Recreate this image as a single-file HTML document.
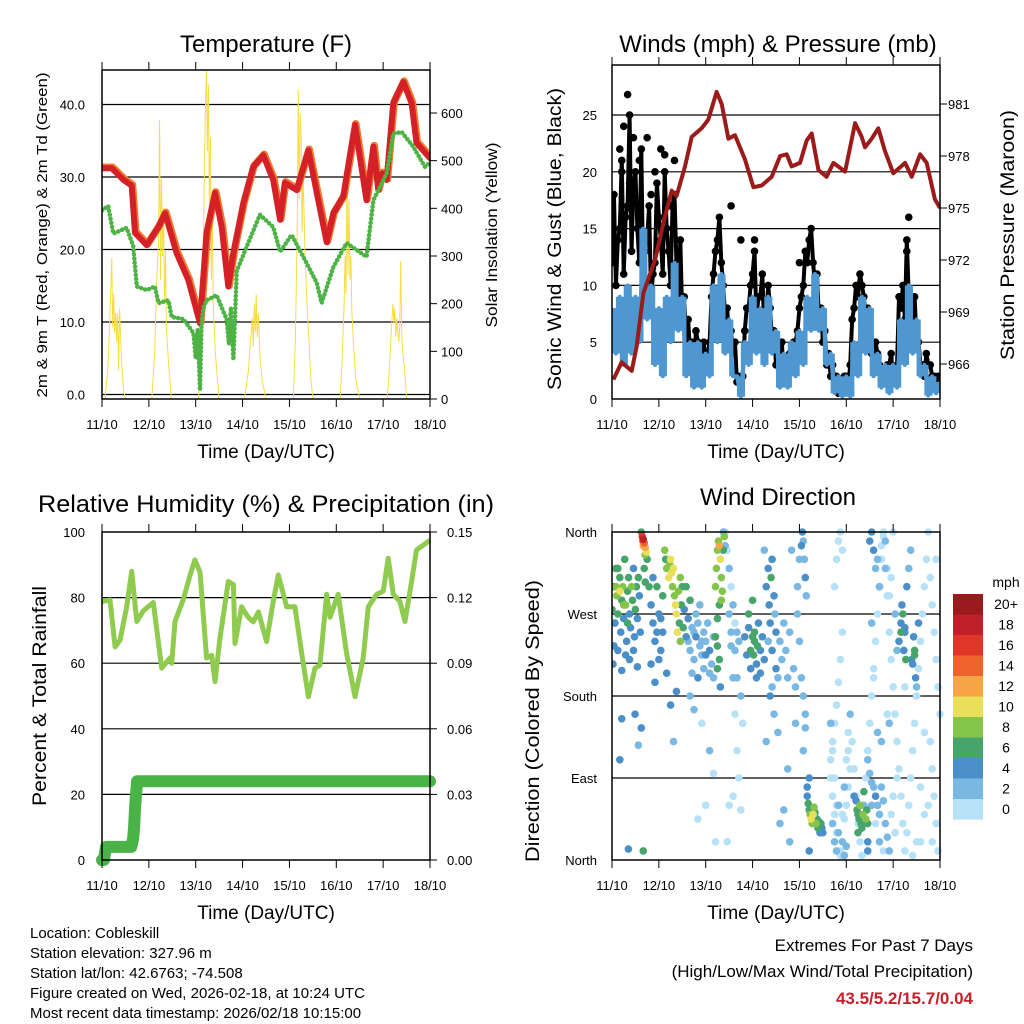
<!DOCTYPE html>
<html><head><meta charset="utf-8"><title>Cobleskill station meteogram</title>
<style>
html,body{margin:0;padding:0;background:#fff;}
svg{display:block;font-family:"Liberation Sans",Arial,sans-serif;}
</style></head>
<body>
<svg id="fig" width="1024" height="1024" viewBox="0 0 1024 1024" xmlns="http://www.w3.org/2000/svg">
<rect x="0" y="0" width="1024" height="1024" fill="#fff"/>
<g id="p1"></g>
<g id="p2"></g>
<g id="p3"></g>
<g id="p4"></g>
<g id="cb"></g>
<g font-size="15" fill="#000">
<text x="30" y="938">Location: Cobleskill</text>
<text x="30" y="958">Station elevation: 327.96 m</text>
<text x="30" y="978">Station lat/lon: 42.6763; -74.508</text>
<text x="30" y="998">Figure created on Wed, 2026-02-18, at 10:24 UTC</text>
<text x="30" y="1018">Most recent data timestamp: 2026/02/18 10:15:00</text>
</g>
<g font-size="17" text-anchor="end">
<text x="973" y="951">Extremes For Past 7 Days</text>
<text x="973" y="977">(High/Low/Max Wind/Total Precipitation)</text>
<text x="973" y="1004" font-weight="bold" fill="#c8202a">43.5/5.2/15.7/0.04</text>
</g>
</svg>
<script>
// ---------------- DATA ----------------
const dayLabels = ["11/10","12/10","13/10","14/10","15/10","16/10","17/10","18/10"];
// Temperature (F): time in hours since 11/10 00 UTC
const tempT = [0,5,11,15.2,16.9,22.9,28.9,32.3,38.2,44.2,50.2,53.6,57.9,61.3,64.7,67.3,72.4,77.5,82.6,87.7,91.2,93.7,99.7,105.7,110,115.1,118.5,123.6,129.6,135.5,137,139,141.5,143.5,145.8,149.2,154.3,158.6,161.1,168];
const tempV = [31.2,31.2,29.6,28.8,22.3,20.6,23.1,25,19.5,15.8,9.8,22.3,27.8,23.1,14.9,19.5,26.4,31.4,33,29.6,24.1,29.2,28.2,33.7,27.8,21,25,27.3,37.2,26.8,30,34.2,28.2,30.5,29.6,40.2,43.1,40.2,34.7,32.6];
const dewT = [0,3.2,5.8,12.6,16,17.8,22.9,27.1,28.9,34,35.7,41.7,46.8,48,49,50.2,51,52,53.6,58.7,63.8,65,66,67.3,69,74.1,80.9,87.7,91.2,97.1,103.1,110,112.5,118.5,125.3,135.5,139,145.8,149.2,153.5,159.4,165.4,168];
const dewV = [25.4,26,22.2,23,20.5,14.9,14.4,14.9,12.6,13,10.7,10.4,8.5,5,9,0.6,10,12,13,13.7,10.4,7,12,4.8,17,20.4,24.8,23.1,19.7,22,19,15.4,12.6,17.6,20.9,19,26.8,30.5,36,36.2,34.2,31.4,32];
const solarT = [0,1.5,3,4,5,5.5,6,6.5,7,7.5,8,8.5,9,10,11,12, 25.5,27,28,29,29.5,30,30.5,31,31.5,32,32.5,33,34,35.5, 49.5,51,52,52.5,53,53.5,54,54.5,55,55.5,56,56.5,57,58,60, 73,75,76,77,77.5,78,78.5,79,79.5,80,81,82,84, 98,99,100,100.5,101,101.5,102,102.5,103,104,105,106,107,108, 122,123,124,124.5,125,125.5,126,126.5,127,127.5,128,129,130,132, 146,147,148,149,149.5,150,150.5,151,152,152.5,153,153.5,154,155,156,168];
const solarV = [0,0,60,170,296,150,220,140,180,120,180,60,190,80,20,0, 0,100,250,330,585,250,460,300,400,200,310,150,80,0, 0,150,350,500,620,690,520,660,400,550,250,420,200,100,0, 0,60,120,170,110,200,140,220,130,180,90,40,0, 0,120,350,650,420,600,560,350,480,300,200,120,40,0, 0,80,200,300,220,470,260,420,250,300,180,100,40,0, 0,50,130,200,160,190,130,170,120,150,290,140,100,60,0,0];
const tempTicks = [0,10,20,30,40];
const tempTickLabels = ["0.0","10.0","20.0","30.0","40.0"];
const solarTicks = [0,100,200,300,400,500,600];

// Winds (mph) & pressure (mb)
const pressT = [0.7,4.9,10.1,12.6,16.1,22.0,27.1,30.6,33.1,37.4,40.8,45.9,49.3,53.6,56.2,59.6,63.0,68.1,72.4,76.7,81.8,86.1,89.5,92.0,96.3,99.7,102.3,105.7,109.9,113.4,119.4,124.5,127.9,129.6,133.0,136.4,139.8,144.1,150.1,153.5,157.8,161.2,165.4,168];
const pressV = [965.1,966.1,965.6,967,970.1,972,974.5,976,975.7,977.4,979.1,979.6,980.1,981.7,981,979,979.2,977.8,976.2,976.3,976.8,978,978.1,977.4,977.6,978.9,979.3,977.2,976.8,977.6,977.1,979.9,979.1,978.5,979,979.6,978.3,977,977.6,976.8,978.1,977.6,975.5,975];
// sustained wind every 2 hours (t = 0,2,4,...,168)
const windV = [8,4,9,3,10,4,9,5,15,7,10,3,8,2,9,5,12,6,9,2,5,1,5,1,4,2,10,5,11,4,7,2,2,0.2,5,3,9,4,8,3,9,4,6,1,4,1,5,2,6,3,9,6,11,6,8,3,4,0.5,2,0.2,2,0.2,5,2,9,4,8,2,4,1,3,0.5,3,1,7,3,10,4,7,2,3,0.3,2,0.5,1.5];
// gusts at odd hours (t = 1,3,...)
const gustA = [18,14,21,16,25,19,15,22,13,17,11,19,14,20,13,17,12,14,9,7,5,6,4,5,4,9,13,16,10,8,6,5,2,2,8,10,13,9,11,7,8,6,4,5,3,4,5,6,9,13,14,12,11,8,6,4,3,2,1,2,1,7,10,11,9,8,4,5,3,2,3,4,2,9,10,14,8,9,5,3,4,3,2,2];
// gusts at even hours (t = 0,2,...)
const gustB = [12,10,15,11,17,13,20,12,10,14,9,12,16,11,15,10,18,9,7,5,4,3,5,2,3,5,11,14,12,7,5,4,1.5,1,6,8,11,7,9,6,10,5,3,4,2,3,4,5,8,10,12,15,10,7,5,3,2,1,0.5,1,2,3,8,9,10,7,5,3,4,2,2,3,1.5,3,8,7,9,6,5,3,2,3,2,1.5,2];
const gustOutT = [4,6,8,11,18,22,25,27,32,61,66,73,96,151,152,5,9,14,20,30];
const gustOutV = [22,24,26.8,23,23,20,22,21.5,21,17,14,14,12,13,16,20,19,21,18,17];
const windTicks = [0,5,10,15,20,25];
const pressTicks = [966,969,972,975,978,981];

// Relative humidity (%) & accumulated precipitation (in)
const rhT = [0,4.1,6.7,9.2,12.6,15.2,17.8,21.2,26.3,30.6,34.8,35.7,37.4,41.7,45.1,47.6,50.2,53.6,56.2,57.9,60.4,64.7,67.3,68.1,71.5,74.9,77.5,80.1,84.3,87.7,90.3,94.6,98.8,102.3,105.7,109.1,111.6,115.1,116.8,121,125.3,129.6,133.8,136.4,140.7,144.1,146.6,149.2,152.6,155.2,158.6,161.1,168];
const rhV = [78.8,79.3,65,67,77,88,72.7,76,78.5,58.5,61.6,60,72.7,79.5,86.9,91.5,87.8,61.6,62.4,54.4,67.5,84.9,84,66,77.2,74,72.6,75.6,66.6,78.8,86.9,77.2,77.2,63,49.8,58.5,59.4,81,74,81,63,49.8,61.6,77.2,81,82,92,81,78.8,72.7,84.9,94.5,97.5];
const rainT = [0,1,2,8,15,16,16.5,17,17.5,18,40,80,120,168];
const rainV = [0,0,0.006,0.006,0.006,0.01,0.016,0.025,0.031,0.036,0.036,0.036,0.036,0.036];
const rhTicks = [0,20,40,60,80,100];
const rainTicks = [0,0.03,0.06,0.09,0.12,0.15];

// Wind direction: [hour, degrees, speed mph]
const dirObs = [
[0,275,6],[1,300,5],[1.5,260,4],[2,320,7],[2.5,290,8],[3,270,6],[4,310,6],[4.5,250,4],[5,285,7],[5.5,300,9],[6,265,5],[6.5,330,6],[7,280,8],[7.5,240,4],[8,295,6],[8.5,310,7],[9,270,5],[9.5,255,4],[10,300,8],[10.5,285,6],[11,320,5],[11.5,245,4],[12,275,7],[12.5,300,6],[13,265,4],[13.5,310,7],[14,290,5],[14.5,250,4],[1,235,4],[3,230,5],[7,225,5],[9,220,4],[5,208,4],[0.5,215,5],[13,212,4],[2,300,9],[4,295,10],[6,280,8],[3,320,6],[8,260,7],[11,230,5],
[4,110,4],[11.8,160,4],[15,145,4],[13.5,126,2],[8.4,12,4],[16,10,7],[5,155,4],
[15,360,7],[15.5,355,16],[16,352,19],[16.5,348,14],[17,343,12],[17.5,338,10],[16,345,12],[17,335,8],[15.8,350,14],[18,330,7],[16.5,320,6],[17,305,6],
[19,300,6],[20,280,5],[21,260,5],[22,240,4],[23,250,4],[24,270,5],[25,230,4],[26,290,6],[27,340,8],[27.5,330,7],[28,320,9],[29,310,10],[29.5,325,9],[30,330,10],[30.5,315,11],[31,300,9],[31.5,320,10],[32,290,8],[32.5,280,10],[33,270,11],[33.5,250,10],[34,295,8],[34.5,260,7],[35,240,9],[35.5,280,6],[36,300,7],[36.5,255,6],[37,275,5],[38,245,4],[39,265,5],[40,285,6],[20,215,4],[22,195,5],[24,220,5],[26,250,4],[28,205,4],[30,170,4],[31.5,130,2],[33,185,4],[35,310,8],[38,300,7],[21,310,5],[23,300,6],[25,265,5],
[39,240,3],[40,230,3],[41,255,2],[42,220,3],[43,245,4],[44,260,3],[45,235,2],[46,225,3],[47,250,2],[48,240,3],[49,260,3],[50,230,4],[51,215,2],[52,245,3],[41,205,3],[44,200,4],[47,210,3],[50,205,2],[42,250,3],[46,240,3],[48,225,4],[43,270,3],[45,280,2],[40,180,2],[42,165,2],[46,150,1],[50,120,2],[52,95,1],[48,60,1],[44,45,1],[53,20,1],[52,200,2],
[53,300,8],[53.5,320,9],[54,340,8],[54.5,350,9],[55,345,12],[55.5,330,10],[56,310,9],[56.5,295,8],[57,340,7],[57.5,355,8],[55,280,7],[54,265,6],[56,285,8],[53,245,6],[54,235,7],[55,220,6],[55.5,190,5],[54,210,7],
[58,360,1],[59,340,1],[60,320,2],[61,300,1],[62,280,2],[63,260,1],[64,250,2],[60,270,3],[61,235,3],[62,200,2],[63,160,1],[64,120,1],[65,90,1],[66,55,1],[62,70,1],[59,20,1],[60,60,1],[64,200,2],[66,180,2],[67,150,1],[58,345,2],[57,360,2],[61,250,2],[63,230,3],[65,240,3],
[68,245,4],[69,225,4],[70,255,5],[71,230,6],[72,245,6],[72.5,225,7],[73,250,6],[74,215,5],[74.5,235,6],[75,260,4],[76,230,4],[77,245,5],[78,220,4],[70,270,7],[72,285,6],[74,200,4],[76,205,4],[71,210,4],[73,240,7],
[79,300,5],[80,320,4],[80.5,280,4],[81,260,5],[81.5,310,6],[82,330,5],[83,290,4],[83.5,270,3],[84,250,4],[78,340,2],[80,240,3],[82,230,4],[84,210,4],[85,200,3],[81,180,4],[83,160,2],[85,140,2],[79,130,2],[82,190,2],
[86,240,3],[87,220,2],[88,260,2],[89,230,3],[90,200,2],[91,250,2],[92,340,2],[93,210,3],[94,190,2],[95,300,3],[96,330,3],[97,345,4],[97.5,360,4],[98,350,3],[98.5,330,3],[99,310,4],[99.5,290,3],[95,270,2],[96,240,2],[97,200,2],[98,180,2],[99,160,3],[99,145,3],[98,120,2],[94,150,2],[90,100,2],[88,55,2],[86,40,2],[91,20,2],
[100,70,5],[100.5,62,6],[101,55,7],[101.5,50,8],[102,45,10],[102.5,40,9],[103,50,10],[103.5,58,8],[104,52,7],[104.5,40,8],[105,45,6],[105.5,35,7],[106,42,6],[106.5,30,5],[107,40,6],[107.5,35,4],[108,30,4],[100,80,4],[101,90,4],[101,10,4],
[112,90,1],[113,70,1],[114,50,1],[115,30,1],[116,10,1],[117,5,1],[118,20,2],[119,45,1],[120,60,1],[121,80,1],[112,110,1],[113,130,1],[114,150,1],[115,170,1],[116,195,1],[117,220,1],[118,250,1],[114,300,1],[115,330,1],[116,350,1],[117,360,1],[118,340,1],[121,120,1],[122,100,1],[119,5,3],[120,15,3],[113,40,2],[114,20,2],[115,10,2],[116,60,2],
[124,70,4],[125,65,5],[125.5,55,6],[126,50,7],[126.5,45,6],[127,60,8],[127.5,40,6],[128,35,7],[128.5,50,8],[129,75,6],[130,45,8],[130.5,55,7],[131,40,6],[126,30,6],[131,20,4],[131,10,4],
[131,110,2],[132,95,3],[133,85,3],[134,80,3],[135,70,4],[136,60,3],[137,50,3],[138,80,2],[139,65,2],[140,40,2],[141,25,2],[142,10,2],[143,50,1],[144,70,1],[145,30,1],[146,90,1],[133,60,2],[135,40,1],[137,20,2],[139,10,1],[132,350,4],[133,360,4],[134,340,4],[135,320,2],[136,330,3],[137,300,2],[138,345,1],[139,360,1],[140,350,2],[141,320,1],[142,290,1],[143,310,1],[144,360,1],[145,270,2],[146,230,2],[141,160,1],[142,150,2],[138,130,2],[136,140,2],[134,200,1],[133,260,3],
[147,240,4],[148,260,5],[148.5,280,4],[149,270,6],[149.5,230,4],[150,250,4],[150.5,220,6],[151,300,4],[152,320,3],[153,340,3],[153.5,220,4],[154,215,4],[154.5,245,4],[155,225,6],[155.5,200,4],[156,190,3],[157,260,4],[148,250,7],[155,230,7],[150,255,5],
[112,150,2],[113,120,1],[114,90,1],[115,60,1],[116,30,2],[117,10,1],[118,50,1],[119,80,2],[120,110,1],[121,140,1],[122,160,2],[123,130,1],[124,100,1],[125,70,1],[126,40,1],[127,20,1],[128,5,1],[129,60,2],[130,90,1],[131,120,1],[132,150,1],[133,180,1],[134,210,1],[135,240,1],[136,270,1],[137,300,2],[138,330,1],[139,355,1],[140,320,2],[141,290,1],[142,250,1],[143,220,1],[144,190,1],[145,160,1],[146,130,1],[147,100,1],[148,70,1],[149,40,1],[150,10,1],[151,30,1],[152,60,1],[153,90,1],[154,120,1],[155,150,1],[156,180,1],[157,210,1],[158,240,1],[159,270,1],[160,300,1],[161,330,1],[162,360,1],[163,310,1],[164,280,1],[165,250,1],[166,220,1],[167,190,1],[168,160,1],[163,130,1],[164,100,1],[165,70,1],[166,40,1],[167,10,1],[160,50,1],[158,80,1],[156,20,1],[154,5,1],[150,190,1],[162,60,1],[164,20,1],[166,330,1],[160,140,1],[158,20,1]
];
const dirTicks = [0,90,180,270,360];
const dirTickLabels = ["North","East","South","West","North"];
const speedLabels = ["20+","18","16","14","12","10","8","6","4","2","0"];
const speedColors = ["#9b1a1e","#c0202a","#e0362a","#f0622b","#f7a547","#e8e05a","#84c44a","#47a56c","#4a8fc8","#7ab8e4","#b6e1f7"];

// ---------------- HELPERS ----------------
const NS = "http://www.w3.org/2000/svg";
function mk(parent, tag, attrs){
  const e = document.createElementNS(NS, tag);
  for (const k in attrs) e.setAttribute(k, attrs[k]);
  parent.appendChild(e);
  return e;
}
function txt(parent, x, y, s, size, anchor, extra){
  const e = mk(parent, "text", {x:x, y:y, "font-size":size, "text-anchor":anchor||"middle"});
  if (extra) for (const k in extra) e.setAttribute(k, extra[k]);
  e.textContent = s;
  return e;
}
function lin(d0, d1, r0, r1){ return v => r0 + (v - d0) * (r1 - r0) / (d1 - d0); }
function pts(ts, vs, sx, sy){ return ts.map((t,i)=> sx(t).toFixed(1)+","+sy(vs[i]).toFixed(1)).join(" "); }

function frame(g, x0, y0, x1, y1, sx, labelY, titleY){
  for (let i=0;i<dayLabels.length;i++){
    const x = sx(i*24);
    const tb = mk(g,"line",{x1:x,y1:y1,x2:x,y2:y1+8,stroke:"#000","stroke-width":1});
    
    
    const tt = mk(g,"line",{x1:x,y1:y0,x2:x,y2:y0-8,stroke:"#000","stroke-width":1});
    
    
    const l = txt(g, x, labelY, dayLabels[i], 13);
    
    
  }
  const xt = txt(g, (x0+x1)/2, titleY, "Time (Day/UTC)", 19);
  
  
}
function border(g, x0, y0, x1, y1){
  const r = mk(g,"rect",{x:x0,y:y0,width:x1-x0,height:y1-y0,fill:"none",stroke:"#000","stroke-width":1.5});
  
  
}
function grid(g, x0, x1, y){
  const l = mk(g,"line",{x1:x0,y1:y,x2:x1,y2:y,stroke:"#000","stroke-width":1.2});
  
  
}

// ---------------- PANEL 1: TEMPERATURE ----------------
(function(){
  const g = document.getElementById("p1");
  const X0=102,X1=430,Y0=70,Y1=399;
  const sx = lin(0,168,X0,X1);
  const sy = lin(0,10,394.5,322);
  const ss = lin(0,600,399,113);
  const clip = mk(g,"clipPath",{id:"c1"}); mk(clip,"rect",{x:X0,y:Y0,width:X1-X0,height:Y1-Y0});
  const t = txt(g,266,52,"Temperature (F)",24);
  
  
  tempTicks.forEach((v,i)=>{
    grid(g,X0,X1,sy(v));
    const l = txt(g,85,sy(v)+5,tempTickLabels[i],13,"end");
    
    
  });
  solarTicks.forEach(v=>{
    const tk = mk(g,"line",{x1:X1,y1:ss(v),x2:X1+7,y2:ss(v),stroke:"#000"});
    
    
    const l = txt(g,441,ss(v)+5,String(v),13,"start");
    
    
  });
  const data = mk(g,"g",{"clip-path":"url(#c1)"});
  const sol = mk(data,"polyline",{points:pts(solarT,solarV,sx,ss),fill:"none",stroke:"#f6dc45","stroke-width":1});
  
  
  const t9 = mk(data,"polyline",{points:pts(tempT,tempV,sx,sy),fill:"none",stroke:"#f07a2e","stroke-width":7.5,"stroke-linejoin":"round","stroke-linecap":"round",transform:"translate(0.8,-1)"});
  
  
  const t2 = mk(data,"polyline",{points:pts(tempT,tempV,sx,sy),fill:"none",stroke:"#d42027","stroke-width":6,"stroke-linejoin":"round","stroke-linecap":"round"});
  
  
  const td = mk(data,"polyline",{points:pts(dewT,dewV,sx,sy),fill:"none",stroke:"#4db344","stroke-width":4.5,"stroke-linecap":"round","stroke-dasharray":"0.1 4","stroke-linejoin":"round"});
  
  
  border(g,X0,Y0,X1,Y1);
  frame(g,X0,Y0,X1,Y1,sx,429,458);
  const yl = txt(g,0,0,"2m & 9m T (Red, Orange) & 2m Td (Green)",15,"middle",{transform:"translate(47,235) rotate(-90)",textLength:325,lengthAdjust:"spacingAndGlyphs"});
  
  
  const yr = txt(g,0,0,"Solar Insolation (Yellow)",16,"middle",{transform:"translate(497,235) rotate(-90)",textLength:185,lengthAdjust:"spacingAndGlyphs"});
  
  
})();

// ---------------- PANEL 2: WINDS ----------------
(function(){
  const g = document.getElementById("p2");
  const X0=612,X1=940,Y0=65,Y1=399;
  const sx = lin(0,168,X0,X1);
  const sy = lin(0,25,399,115);
  const sp = lin(966,981,364,104);
  const clip = mk(g,"clipPath",{id:"c2"}); mk(clip,"rect",{x:X0,y:Y0-3,width:X1-X0,height:Y1-Y0+3});
  const t = txt(g,778,52,"Winds (mph) & Pressure (mb)",24);
  
  
  windTicks.forEach(v=>{
    if (v>0) grid(g,X0,X1,sy(v));
    const l = txt(g,597,sy(v)+5,String(v),13,"end");
    
    
  });
  pressTicks.forEach(v=>{
    const tk = mk(g,"line",{x1:X1,y1:sp(v),x2:X1+7,y2:sp(v),stroke:"#000"});
    
    
    const l = txt(g,948,sp(v)+5,String(v),13,"start");
    
    
  });
  const data = mk(g,"g",{"clip-path":"url(#c2)"});
  const gustG = mk(data,"g",{fill:"#000",stroke:"#000"});
  
  
  // dense gust cloud: connect successive gust samples
  const gT = [], gV = [];
  for (let i=0;i<gustB.length;i++){
    gT.push(2*i); gV.push(gustB[i]);
    if (i<gustA.length){ gT.push(2*i+1); gV.push(gustA[i]); }
  }
  for (let i=0;i<gT.length-1;i++){
    const s = mk(gustG,"line",{x1:sx(gT[i]),y1:sy(gV[i]),x2:sx(gT[i+1]),y2:sy(gV[i+1]),"stroke-width":4,"stroke-linecap":"round"});
    
    
  }
  gT.forEach((tt,i)=>{
    const c = mk(gustG,"circle",{cx:sx(tt),cy:sy(gV[i]),r:3.3});
    
    
  });
  gustOutT.forEach((tt,i)=>{
    const c = mk(gustG,"circle",{cx:sx(tt),cy:sy(gustOutV[i]),r:3.3});
    
    
  });
  const wt = windV.map((v,i)=>2*i);
  const band = mk(data,"g",{fill:"#4f97d1"});
  
  
  for (let i=0;i<windV.length-1;i++){
    const a = sx(wt[i]), b = sx(wt[i+1]);
    const hi = Math.max(windV[i],windV[i+1]), lo = Math.min(windV[i],windV[i+1]);
    const r = mk(band,"rect",{x:a,y:sy(hi),width:b-a+0.3,height:sy(lo)-sy(hi)});
    
    
  }
  const w = mk(data,"polyline",{points:pts(wt,windV,sx,sy),fill:"none",stroke:"#4f97d1","stroke-width":4,"stroke-linejoin":"round"});
  
  
  const p = mk(data,"polyline",{points:pts(pressT,pressV,sx,sp),fill:"none",stroke:"#9b1b1b","stroke-width":4,"stroke-linejoin":"round"});
  
  
  border(g,X0,Y0,X1,Y1);
  frame(g,X0,Y0,X1,Y1,sx,429,458);
  const yl = txt(g,0,0,"Sonic Wind & Gust (Blue, Black)",19,"middle",{transform:"translate(561,239) rotate(-90)",textLength:302,lengthAdjust:"spacingAndGlyphs"});
  
  
  const yr = txt(g,0,0,"Station Pressure (Maroon)",19,"middle",{transform:"translate(1014,235) rotate(-90)",textLength:250,lengthAdjust:"spacingAndGlyphs"});
  
  
})();

// ---------------- PANEL 3: RH & RAIN ----------------
(function(){
  const g = document.getElementById("p3");
  const X0=102,X1=430,Y0=532,Y1=860;
  const sx = lin(0,168,X0,X1);
  const sy = lin(0,100,860,532);
  const sr = lin(0,0.15,860,532);
  const t = txt(g,266,512,"Relative Humidity (%) & Precipitation (in)",24,"middle",{textLength:456,lengthAdjust:"spacingAndGlyphs"});
  
  
  rhTicks.forEach(v=>{
    if (v>0 && v<100) grid(g,X0,X1,sy(v));
    const l = txt(g,85,sy(v)+5,String(v),13,"end");
    
    
  });
  rainTicks.forEach(v=>{
    const tk = mk(g,"line",{x1:X1,y1:sr(v),x2:X1+7,y2:sr(v),stroke:"#000"});
    
    
    const l = txt(g,447,sr(v)+5,v.toFixed(2),13,"start");
    
    
  });
  const rh = mk(g,"polyline",{points:pts(rhT,rhV,sx,sy),fill:"none",stroke:"#8fcb4f","stroke-width":5,"stroke-linejoin":"round"});
  
  
  const rn = mk(g,"polyline",{points:pts(rainT,rainV,sx,sr),fill:"none",stroke:"#49b347","stroke-width":12,"stroke-linejoin":"round","stroke-linecap":"round"});
  
  
  border(g,X0,Y0,X1,Y1);
  frame(g,X0,Y0,X1,Y1,sx,890,919);
  const yl = txt(g,0,0,"Percent & Total Rainfall",19,"middle",{transform:"translate(46,696) rotate(-90)",textLength:220,lengthAdjust:"spacingAndGlyphs"});
  
  
})();

// ---------------- PANEL 4: WIND DIRECTION ----------------
(function(){
  const g = document.getElementById("p4");
  const X0=612,X1=940,Y0=532,Y1=860;
  const sx = lin(0,168,X0,X1);
  const sy = lin(0,360,860,532);
  const t = txt(g,778,505,"Wind Direction",24);
  
  
  dirTicks.forEach((v,i)=>{
    if (v>0 && v<360) grid(g,X0,X1,sy(v));
    const l = txt(g,597,sy(v)+5,dirTickLabels[i],13,"end");
    
    
  });
  const clip = mk(g,"clipPath",{id:"c4"}); mk(clip,"rect",{x:X0,y:Y0-4,width:X1-X0+4,height:Y1-Y0+8});
  const data = mk(g,"g",{"clip-path":"url(#c4)"});
  const order = dirObs.map((o,i)=>i).sort((a,b)=>dirObs[a][2]-dirObs[b][2]);
  order.forEach(i=>{
    const o = dirObs[i];
    const bin = Math.min(10, Math.floor(o[2]/2));
    const c = mk(data,"circle",{cx:sx(o[0]),cy:sy(o[1]),r:3.8,fill:speedColors[10-bin]});
    
    
  });
  border(g,X0,Y0,X1,Y1);
  frame(g,X0,Y0,X1,Y1,sx,890,919);
  const yl = txt(g,0,0,"Direction (Colored By Speed)",19,"middle",{transform:"translate(539,721) rotate(-90)",textLength:282,lengthAdjust:"spacingAndGlyphs"});
  
  

  const cb = document.getElementById("cb");
  const u = txt(cb,1006,587,"mph",14);
  
  
  speedLabels.forEach((s,i)=>{
    const y = 594 + i*20.5;
    const r = mk(cb,"rect",{x:953,y:y,width:30,height:20.6,fill:speedColors[i]});
    
    
    const l = txt(cb,1006,y+15,s,14);
    
    
  });
})();
</script>
</body></html>
